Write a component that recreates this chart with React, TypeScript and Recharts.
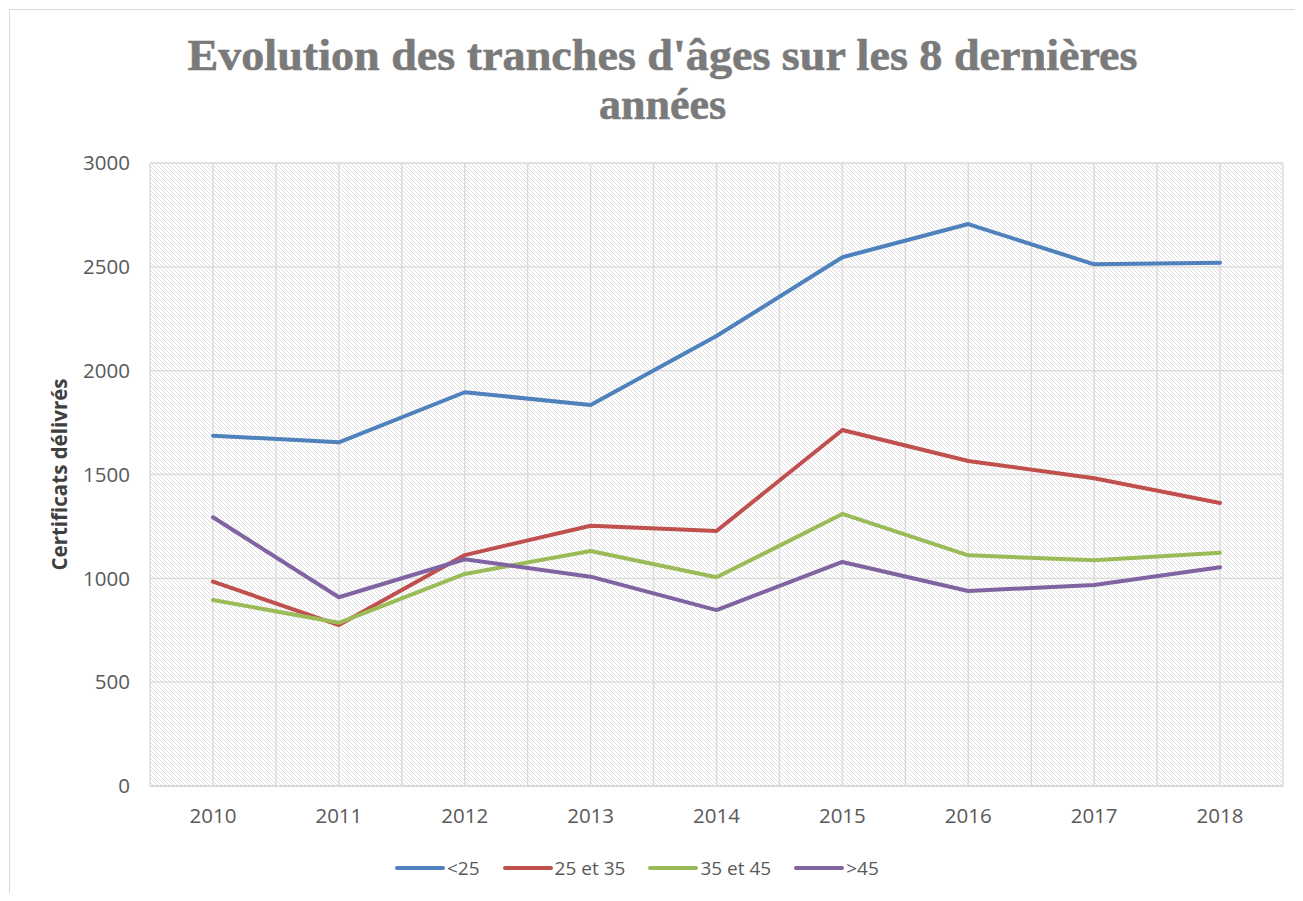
import React from 'react';
import { LineChart, Line, XAxis, YAxis, CartesianGrid, Legend, Label } from 'recharts';

const years = ['2010', '2011', '2012', '2013', '2014', '2015', '2016', '2017', '2018'];
const under25 = [1687, 1655, 1896, 1835, 2167, 2546, 2706, 2512, 2520];
const from25to35 = [984, 775, 1112, 1253, 1228, 1714, 1565, 1482, 1363];
const from35to45 = [896, 786, 1021, 1132, 1005, 1310, 1111, 1087, 1123];
const over45 = [1294, 909, 1092, 1008, 847, 1079, 939, 968, 1053];
const yTicks = [0, 500, 1000, 1500, 2000, 2500, 3000];

const seriesNames = ['<25', '25 et 35', '35 et 45', '>45'];
const seriesColors = ['#4f81bd', '#c0504d', '#9bbb59', '#8064a2'];
const seriesValues = [under25, from25to35, from35to45, over45];

const titleLine1 = "Evolution des tranches d'âges sur les 8 dernières";
const titleLine2 = 'années';
const yAxisTitle = 'Certificats délivrés';

const data = years.map((year, i) => {
  const row: Record<string, number | string> = { year, idx: i };
  seriesNames.forEach((name, s) => {
    row[name] = seriesValues[s][i];
  });
  return row;
});

const gridTicks: number[] = [];
years.forEach((_, i) => {
  gridTicks.push(i - 0.5);
  gridTicks.push(i);
});
gridTicks.push(years.length - 0.5);

const FONT = '"Open Sans", "Liberation Sans", sans-serif';

const LegendContent = (props: any) => {
  const payload = [...(props.payload || [])].sort(
    (a: any, b: any) => seriesNames.indexOf(a.value) - seriesNames.indexOf(b.value)
  );
  return (
    <div style={{ display: 'flex', alignItems: 'center', height: 40, fontFamily: FONT, fontSize: 19, color: '#595959' }}>
      {payload.map((p: any) => (
        <div key={p.value} style={{ display: 'flex', alignItems: 'center', marginRight: 23 }}>
          <svg width={50} height={8} style={{ display: 'block' }}>
            <line x1={2} y1={4} x2={48} y2={4} stroke={p.color} strokeWidth={4} strokeLinecap="round" />
          </svg>
          <span style={{ marginLeft: 2 }}>{p.value}</span>
        </div>
      ))}
    </div>
  );
};

export default function App() {
  return (
    <div style={{ position: 'relative', width: 1295, height: 885, overflow: 'hidden' }}>
      <div
        style={{
          position: 'absolute',
          left: 1,
          top: 1,
          width: 1400,
          height: 1000,
          borderLeft: '1.5px solid #d9d9d9',
          borderTop: '1.5px solid #d9d9d9',
        }}
      />
      <svg width={1295} height={140} style={{ position: 'absolute', left: 0, top: 0 }}>
        <text
          x={654.5}
          y={62}
          textAnchor="middle"
          fontFamily='"Liberation Serif", "DejaVu Serif", serif'
          fontWeight="bold"
          fontSize={44}
          fill="#7a7a7a"
          stroke="#7a7a7a"
          strokeWidth={0.6}
          textLength={950}
          lengthAdjust="spacingAndGlyphs"
        >
          {titleLine1}
        </text>
        <text
          x={654.5}
          y={111}
          textAnchor="middle"
          fontFamily='"Liberation Serif", "DejaVu Serif", serif'
          fontWeight="bold"
          fontSize={44}
          fill="#7a7a7a"
          stroke="#7a7a7a"
          strokeWidth={0.6}
        >
          {titleLine2}
        </text>
      </svg>
      <div style={{ position: 'absolute', left: 0, top: 0 }}>
        <LineChart width={1290} height={880} data={data} margin={{ top: 155, right: 15, bottom: 0, left: 0 }}>
          <defs>
            <pattern id="hatch" patternUnits="userSpaceOnUse" width={4} height={4}>
              <rect x={0} y={0} width={4} height={4} fill="#ffffff" />
              <path d="M-1,-1 L5,5 M-1,3 L1,5 M3,-1 L5,1" stroke="#dedede" strokeWidth={1} />
            </pattern>
          </defs>
          <CartesianGrid
            xAxisId="grid"
            stroke="#dadada"
            strokeWidth={1.4}
            fill="url(#hatch)"
            fillOpacity={1}
            horizontal
            vertical
          />
          <XAxis
            xAxisId="grid"
            type="number"
            dataKey="idx"
            domain={[-0.5, years.length - 0.5]}
            ticks={gridTicks}
            hide
            allowDataOverflow
          />
          <XAxis
            dataKey="year"
            padding={{ left: 63, right: 63 }}
            height={62}
            tickLine={false}
            tickSize={0}
            tickMargin={22}
            axisLine={{ stroke: '#d9d9d9', strokeWidth: 1.5 }}
            tick={{ fill: '#595959', fontSize: 20.5, fontFamily: FONT }}
            interval={0}
          />
          <YAxis
            domain={[0, 3000]}
            ticks={yTicks}
            width={142}
            tickLine={false}
            axisLine={false}
            tickSize={0}
            tickMargin={20}
            tick={{ fill: '#595959', fontSize: 20.5, fontFamily: FONT }}
            interval={0}
          >
            <Label
              content={(props: any) => {
                const vb = props.viewBox || { x: 0, y: 0, width: 0, height: 0 };
                const cx = vb.x + 51;
                const cy = vb.y + vb.height / 2;
                return (
                  <text
                    x={cx}
                    y={cy}
                    transform={`rotate(-90 ${cx} ${cy})`}
                    textAnchor="middle"
                    dominantBaseline="central"
                    fontFamily={FONT}
                    fontWeight="bold"
                    fontSize={20.5}
                    fill="#404040"
                  >
                    {yAxisTitle}
                  </text>
                );
              }}
            />
          </YAxis>
          <Legend
            verticalAlign="bottom"
            content={<LegendContent />}
            wrapperStyle={{ left: 387, width: 'auto', height: 40 }}
          />
          {seriesNames.map((name, s) => (
            <Line
              key={name}
              dataKey={name}
              name={name}
              stroke={seriesColors[s]}
              strokeWidth={4}
              dot={false}
              activeDot={false}
              strokeLinejoin="round"
              strokeLinecap="round"
              isAnimationActive={false}
            />
          ))}
        </LineChart>
      </div>
    </div>
  );
}
